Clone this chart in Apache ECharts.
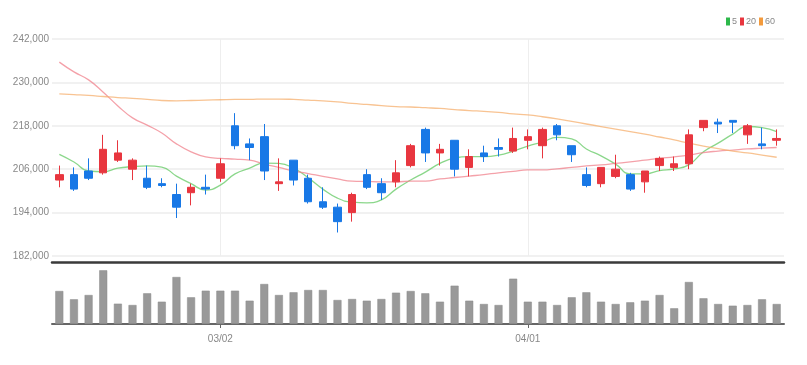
<!DOCTYPE html>
<html>
<head>
<meta charset="utf-8">
<script src="https://cdn.jsdelivr.net/npm/echarts@6/dist/echarts.min.js"></script>
<style>
html,body{margin:0;padding:0;background:#fff;}
#chart{width:807px;height:365px;}
</style>
</head>
<body>
<div id="chart"></div>
<script>
// trading days, 2022
const dates = ['02/14','02/15','02/16','02/17','02/18','02/21','02/22','02/23','02/24','02/25','02/28',
  '03/02','03/03','03/04','03/07','03/08','03/10','03/11','03/14','03/15','03/16','03/17','03/18',
  '03/21','03/22','03/23','03/24','03/25','03/28','03/29','03/30','03/31',
  '04/01','04/04','04/05','04/06','04/07','04/08','04/11','04/12','04/13','04/14','04/15',
  '04/18','04/19','04/20','04/21','04/22','04/25','04/26'];

// [open, close, low, high]
const candles = [
  [203000,204500,201000,207000],[204500,200500,200000,206500],[205500,203500,203000,209000],
  [205000,211500,204500,215500],[208500,210500,208000,214000],[206000,208500,203000,209000],
  [203500,201000,200500,207000],[202000,201500,201000,203500],[199000,195500,192500,202000],
  [199500,201000,196000,202000],[201000,200500,199000,204500],[203500,207500,202500,209000],
  [218000,212500,211500,221500],[213000,212000,208500,214500],[215000,205500,203000,218500],
  [202000,202500,200000,209000],[208500,203000,201500,208500],[203500,197000,196500,204500],
  [197000,195500,195000,201000],[195500,191500,188500,196500],[194000,199000,191500,199500],
  [204500,201000,200500,206000],[202000,199500,197500,203500],[202500,205000,201000,208500],
  [207000,212500,206500,213000],[217000,210500,208000,217500],[210500,211500,207000,213000],
  [214000,206000,204000,214000],[206500,209500,204000,211500],[210500,209500,208000,212500],
  [212000,211500,209500,214500],[211000,214500,210500,217500],[214000,215000,211500,217000],
  [212500,217000,209000,217500],[218000,215500,214000,218500],[212500,210000,208000,212500],
  [204500,201500,201000,206500],[202000,206500,201000,206500],[204000,206000,203500,210000],
  [204500,200500,200000,205000],[202500,205500,199500,205500],[207000,209000,205500,209500],
  [206500,207500,205500,209500],[207500,215500,206000,217000],[217500,219500,216500,219500],
  [219000,218500,216000,220000],[219500,219000,216000,219500],[215500,218000,213000,218500],
  [213000,212500,211500,217500],[214000,214500,212500,217000]
];

const ma5 = [210100,208000,205500,205300,206300,206700,206900,206600,204100,202000,200200,201600,
  204700,206300,207700,207600,206300,203600,200500,198000,196900,196700,197500,200500,203000,
  205200,207600,209100,209500,209500,209900,211000,212400,213500,214800,214400,211600,209700,
  207400,204700,204700,205600,206100,207200,210800,213200,215700,217800,217500,216400];

const ma20 = [235600,232900,230700,227300,223500,220200,218200,216000,213000,210800,209400,209000,
  208800,208500,207400,206500,205500,204800,204000,203300,202700,202600,202500,202500,202700,
  202700,203300,203700,204100,204500,205000,205400,205800,205800,206100,206500,206900,207200,
  207600,208000,208500,209000,209400,209900,210600,211000,211300,211600,211800,212000];

const ma60 = [226800,226600,226400,226100,225800,225600,225300,225000,224900,225000,225100,225200,
  225300,225300,225400,225400,225300,225100,224900,224600,224200,223900,223600,223300,223200,
  223000,222800,222500,222200,222000,221700,221300,221000,220500,219900,219200,218500,217800,
  217100,216400,215700,214900,214100,213200,212400,211700,211000,210500,209900,209300];

const volumes = [330000,247000,290000,537000,203000,190000,307000,223000,470000,267000,333000,333000,
  333000,233000,400000,290000,317000,340000,340000,240000,250000,233000,250000,313000,330000,
  307000,223000,383000,233000,200000,190000,453000,223000,223000,190000,267000,317000,223000,
  200000,217000,233000,290000,157000,420000,257000,200000,183000,190000,247000,200000];

const yTicks = {min: 182000, max: 242000, step: 12000};

const UP = '#e8363f', DOWN = '#1878e6';
const FONT = 'Liberation Sans Narrow, Liberation Sans';
const monthStart = (i) => i > 0 && dates[i].slice(0, 2) !== dates[i - 1].slice(0, 2);
const monthLines = dates.filter((d, i) => monthStart(i)).map(d => ({xAxis: d}));

const chart = echarts.init(document.getElementById('chart'));

const lineSeries = (name, data, iconColor, lineColor) => ({
  name: name,
  type: 'line',
  data: data,
  xAxisIndex: 0,
  yAxisIndex: 0,
  symbol: 'none',
  smooth: true,
  itemStyle: {color: iconColor},
  lineStyle: {color: lineColor, width: 1.3},
  z: 2
});

chart.setOption({
  animation: false,
  legend: {
    right: 27,
    top: 12,
    icon: 'rect',
    itemWidth: 4,
    itemHeight: 8,
    itemGap: 3,
    textStyle: {color: '#888', fontSize: 9, fontFamily: FONT, padding: [0, 0, 0, -3]},
    data: ['5', '20', '60']
  },
  grid: [
    {left: 52, right: 23, top: 39, height: 217},
    {left: 52, right: 23, top: 266, height: 58}
  ],
  xAxis: [
    {
      type: 'category',
      data: dates,
      gridIndex: 0,
      boundaryGap: true,
      offset: 6,
      axisLine: {lineStyle: {color: '#3a3a3a', width: 2.5}},
      axisTick: {show: false},
      axisLabel: {show: false},
      splitLine: {show: false}
    },
    {
      type: 'category',
      data: dates,
      gridIndex: 1,
      boundaryGap: true,
      axisLine: {lineStyle: {color: '#666', width: 2}},
      axisTick: {show: true, interval: monthStart, alignWithLabel: true, length: 4, lineStyle: {color: '#666'}},
      axisLabel: {interval: monthStart, color: '#888', fontSize: 10, margin: 10, fontFamily: FONT},
      splitLine: {show: false}
    }
  ],
  yAxis: [
    {
      type: 'value',
      gridIndex: 0,
      min: yTicks.min,
      max: yTicks.max,
      interval: yTicks.step,
      axisLine: {show: false},
      axisTick: {show: false},
      axisLabel: {color: '#888', fontSize: 10, margin: 3, fontFamily: FONT,
        formatter: (v) => v.toLocaleString('en-US')},
      splitLine: {lineStyle: {color: '#ececec', width: 1.5}}
    },
    {
      type: 'value',
      gridIndex: 1,
      min: 0,
      max: 580000,
      show: false,
      splitLine: {show: false}
    }
  ],
  series: [
    {
      name: 'candle',
      type: 'candlestick',
      data: candles,
      xAxisIndex: 0,
      yAxisIndex: 0,
      barWidth: 8,
      itemStyle: {color: UP, color0: DOWN, borderColor: UP, borderColor0: DOWN, borderWidth: 1},
      markLine: {
        silent: true,
        symbol: 'none',
        label: {show: false},
        lineStyle: {color: '#eeeeee', width: 1, type: 'solid'},
        data: monthLines,
        z: 0
      },
      z: 3
    },
    lineSeries('5', ma5, '#2db84a', 'rgba(110,205,110,0.8)'),
    lineSeries('20', ma20, '#e8363f', 'rgba(240,130,140,0.75)'),
    lineSeries('60', ma60, '#f39a3c', 'rgba(245,175,110,0.75)'),
    {
      name: 'volume',
      type: 'bar',
      data: volumes,
      xAxisIndex: 1,
      yAxisIndex: 1,
      barWidth: 8,
      itemStyle: {color: '#999', borderColor: '#8a8a8a', borderWidth: 0.5}
    }
  ]
});
</script>
</body>
</html>
